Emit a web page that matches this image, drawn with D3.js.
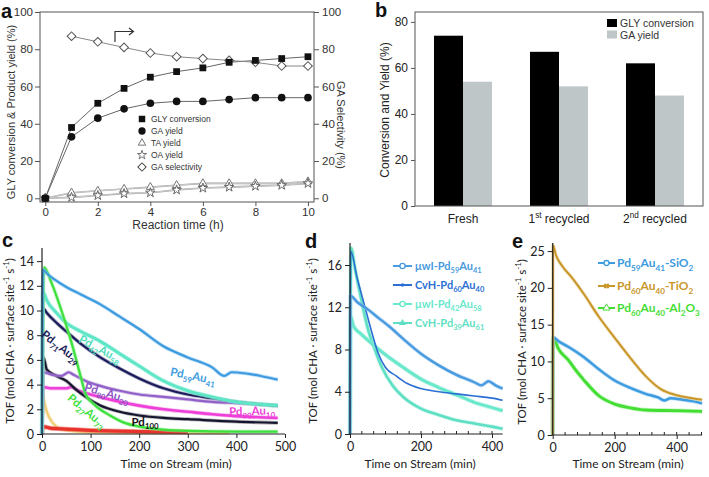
<!DOCTYPE html>
<html><head><meta charset="utf-8">
<script src="https://cdn.jsdelivr.net/npm/d3@7"></script>
<style>body{margin:0;background:#fff}svg{display:block}</style>
</head><body>
<svg id="fig" width="709" height="477"></svg>
<script>
// ---------- Panel a data ----------
const aHours = [0,1,2,3,4,5,6,7,8,9,10];
const aGlyConversion = [0,38,51,59,65,68,70,73,74,75,76];
const aGaYield = [0,33,43,48,51,52,52,53,54,54,54];
const aTaYield = [0,3,4,5,6,7,8,8,8,8,9];
const aOaYield = [0,0.5,1.5,2.5,3,4.5,5.5,6,6.5,7,8];
const aSelHours = [1,2,3,4,5,6,7,8,9,10];
const aGaSelectivity = [87,84,81,78,76,75,74,73,71,71];
const aXTicks = [0,2,4,6,8,10];
const aYTicks = [0,20,40,60,80,100];
const aLegend = ["GLY conversion","GA yield","TA yield","OA yield","GA selectivity"];

// ---------- Panel b data ----------
const bCategories = ["Fresh","1^{st} recycled","2^{nd} recycled"];
const bSeries = ["GLY conversion","GA yield"];
const bGlyConversion = [74,67,62];
const bGaYield = [54,52,48];
const bYTicks = [0,20,40,60,80];

// ---------- Panel c data ([min, TOF]) ----------
const cPd59Au41 = [[0,0],[2,13.3],[10,13],[30,12.4],[50,11.9],[80,11.3],[120,10.5],[160,9.5],[200,8.5],[250,7.1],[300,6.2],[350,5.4],[375,4.7],[390,5.0],[420,4.9],[450,4.7],[485,4.4]];
const cPd42Au58 = [[0,0],[2,11.5],[10,10.8],[30,9.8],[50,9.0],[80,8.3],[120,7.5],[160,6.5],[200,5.5],[250,4.3],[300,3.5],[350,3.0],[400,2.6],[450,2.4],[485,2.3]];
const cPd71Au29 = [[0,0],[2,10.2],[10,9.8],[30,9.0],[50,8.3],[80,7.3],[120,6.2],[160,5.3],[200,4.5],[250,3.7],[300,3.2],[350,2.9],[400,2.6],[450,2.4],[485,2.3]];
const cPd27Au73 = [[0,0],[4,13.5],[20,12.2],[40,10.0],[60,7.5],[80,4.6],[90,3.2],[110,2.3],[140,1.5],[170,0.9],[200,0.6],[250,0.35],[300,0.25],[400,0.2],[485,0.2]];
const cPd80Au20 = [[0,0],[2,5.0],[20,4.8],[40,4.7],[55,5.0],[65,4.8],[90,4.3],[120,3.9],[160,3.5],[200,3.2],[250,3.0],[300,2.8],[350,2.6],[400,2.5],[485,2.3]];
const cPd90Au10 = [[0,0],[2,3.8],[20,3.7],[50,3.7],[60,3.8],[75,3.5],[100,3.2],[150,2.7],[200,2.3],[250,2.0],[300,1.8],[350,1.6],[400,1.45],[485,1.3]];
const cPd100 = [[0,0],[3,6.2],[10,5.2],[30,4.7],[50,4.3],[70,3.6],[90,3.0],[120,2.3],[160,1.8],[200,1.5],[250,1.3],[300,1.2],[400,1.0],[485,0.9]];
const cAu100 = [[0,0],[1,3.2],[5,2.5],[10,1.8],[20,1.0],[30,0.6],[50,0.3],[100,0.15],[385,0.1]];
const cSupport = [[0,0],[2,0.6],[20,0.45],[50,0.4],[100,0.3],[200,0.2],[300,0.15]];
const cXTicks = [0,100,200,300,400,500];
const cYTicks = [0,2,4,6,8,10,12,14];

// ---------- Panel d data ----------
const dMwiPd59Au41 = [[0,0],[1,13.1],[20,12.5],[50,11.8],[80,11.0],[110,10.2],[150,9.0],[200,7.6],[250,6.5],[300,5.6],[350,4.9],[370,4.6],[390,5.0],[410,4.6],[430,4.3]];
const dCvhPd60Au40 = [[0,0],[2,17.3],[20,14.8],[40,12.3],[60,9.8],[80,7.6],[100,6.3],[130,5.5],[160,4.8],[200,4.3],[250,4.0],[300,3.8],[350,3.6],[400,3.4],[430,3.2]];
const dMwiPd42Au58 = [[0,0],[1,11.2],[10,10.2],[30,9.5],[60,8.6],[100,7.5],[150,6.3],[200,5.2],[250,4.4],[300,3.7],[350,3.0],[400,2.5],[430,2.2]];
const dCvhPd39Au61 = [[0,0],[3,17.6],[15,15.5],[30,13.0],[50,10.0],[70,8.0],[90,6.3],[120,4.6],[150,3.5],[200,2.4],[250,1.8],[300,1.3],[350,1.0],[400,0.7],[430,0.5]];
const dLegend = ["μwI-Pd_{59}Au_{41}","CvH-Pd_{60}Au_{40}","μwI-Pd_{42}Au_{58}","CvH-Pd_{39}Au_{61}"];
const dXTicks = [0,200,400];
const dYTicks = [0,4,8,12,16];

// ---------- Panel e data ----------
const eSiO2 = [[0,0],[1,13.3],[20,12.7],[50,12.0],[100,10.6],[150,8.9],[200,7.4],[250,6.4],[300,5.6],[340,5.1],[360,4.7],[380,5.0],[420,4.8],[450,4.6],[482,4.3]];
const eTiO2 = [[0,0],[1,25.8],[10,24.5],[30,23.0],[60,21.5],[100,19.2],[150,16.0],[200,13.2],[250,10.5],[300,8.0],[350,6.2],[400,5.4],[450,5.0],[482,4.8]];
const eAl2O3 = [[0,0],[1,13.2],[20,11.6],[50,10.2],[80,8.5],[100,7.5],[150,5.3],[200,4.2],[250,3.7],[300,3.4],[400,3.3],[482,3.2]];
const eLegend = ["Pd_{59}Au_{41}-SiO_{2}","Pd_{60}Au_{40}-TiO_{2}","Pd_{60}Au_{40}-Al_{2}O_{3}"];
const eXTicks = [0,200,400];
const eYTicks = [0,5,10,15,20,25];

// ---------- helpers ----------
const FA = "'Liberation Sans', Arial, sans-serif";
const FC = "Lato, 'Open Sans', sans-serif";
const svg = d3.select("#fig");

function rich(t, s, fs) {
  const parts = s.split(/(_\{[^}]*\}|\^\{[^}]*\})/).filter(p => p.length);
  let cur = 0;
  parts.forEach(p => {
    let txt = p, off = 0, size = fs;
    if (p.startsWith("_{")) { txt = p.slice(2, -1); off = fs * 0.3; size = fs * 0.68; }
    else if (p.startsWith("^{")) { txt = p.slice(2, -1); off = -fs * 0.4; size = fs * 0.68; }
    t.append("tspan").attr("dy", off - cur).attr("font-size", size).text(txt);
    cur = off;
  });
  return t;
}
function styleAxis(g, font, size, color, lineColor) {
  g.select(".domain").remove();
  g.selectAll(".tick text").attr("font-family", font).attr("font-size", size).attr("fill", color);
  g.selectAll(".tick line").attr("stroke", lineColor);
}
function panelLetter(ch, x, y) {
  svg.append("text").attr("x", x).attr("y", y).attr("font-family", FA).attr("font-weight", "bold")
    .attr("font-size", 20).attr("fill", "#111").text(ch);
}

// =============== Panel a ===============
{
  const g = svg.append("g");
  const x = d3.scaleLinear([-0.2, 10.23], [40, 314]);
  const y = d3.scaleLinear([-2, 100], [202, 12]);
  g.append("rect").attr("x", 40).attr("y", 12).attr("width", 274).attr("height", 190)
    .attr("fill", "none").attr("stroke", "#555").attr("stroke-width", 1);
  styleAxis(g.append("g").attr("transform", "translate(40,0)")
    .call(d3.axisLeft(y).tickValues(aYTicks).tickSize(5).tickPadding(2)), FA, 11.5, "#333", "#555");
  styleAxis(g.append("g").attr("transform", "translate(314,0)")
    .call(d3.axisRight(y).tickValues(aYTicks).tickSize(5).tickPadding(3)), FA, 11.5, "#333", "#555");
  styleAxis(g.append("g").attr("transform", "translate(0,202)")
    .call(d3.axisBottom(x).tickValues(aXTicks).tickSize(4).tickPadding(2)), FA, 11.5, "#333", "#555");

  const line = d3.line().x(d => x(d[0])).y(d => y(d[1]));
  const z = (xs, ys) => xs.map((h, i) => [h, ys[i]]);
  const sGly = z(aHours, aGlyConversion), sGa = z(aHours, aGaYield), sTa = z(aHours, aTaYield),
        sOa = z(aHours, aOaYield), sSel = z(aSelHours, aGaSelectivity);
  [sTa, sOa].forEach(s => g.append("path").attr("d", line(s)).attr("fill", "none").attr("stroke", "#999").attr("stroke-width", 1.6));
  [sTa, sOa].forEach(s => g.append("path").attr("d", line(s)).attr("fill", "none").attr("stroke", "#fff").attr("stroke-width", 0.5));
  [sGly, sGa].forEach(s => g.append("path").attr("d", line(s)).attr("fill", "none").attr("stroke", "#666").attr("stroke-width", 1));
  g.append("path").attr("d", line(sSel)).attr("fill", "none").attr("stroke", "#888").attr("stroke-width", 1);

  const sym = (type, size) => d3.symbol().type(type).size(size)();
  g.selectAll(".ta").data(sTa).join("path").attr("transform", d => `translate(${x(d[0])},${y(d[1])})`)
    .attr("d", sym(d3.symbolTriangle, 28)).attr("fill", "#fff").attr("stroke", "#777");
  g.selectAll(".oa").data(sOa).join("path").attr("transform", d => `translate(${x(d[0])},${y(d[1])})`)
    .attr("d", sym(d3.symbolStar, 28)).attr("fill", "#fff").attr("stroke", "#666");
  g.selectAll(".sel").data(sSel).join("path").attr("transform", d => `translate(${x(d[0])},${y(d[1])}) rotate(45)`)
    .attr("d", sym(d3.symbolSquare, 38)).attr("fill", "#fff").attr("stroke", "#555");
  g.selectAll(".gly").data(sGly).join("path").attr("transform", d => `translate(${x(d[0])},${y(d[1])})`)
    .attr("d", sym(d3.symbolSquare, 46)).attr("fill", "#111");
  g.selectAll(".ga").data(sGa).join("path").attr("transform", d => `translate(${x(d[0])},${y(d[1])})`)
    .attr("d", sym(d3.symbolCircle, 46)).attr("fill", "#111");

  // arrow pointing to right axis
  g.append("path").attr("d", "M115,42V31.5H133").attr("fill", "none").attr("stroke", "#333").attr("stroke-width", 1.2);
  g.append("path").attr("d", "M129,28L133.5,31.5L129,35").attr("fill", "none").attr("stroke", "#333").attr("stroke-width", 1.2);

  // legend
  const ly = [119, 131, 143, 155, 167];
  const lsym = [
    {t: d3.symbolSquare, s: 42, f: "#111", st: "none", r: 0},
    {t: d3.symbolCircle, s: 42, f: "#111", st: "none", r: 0},
    {t: d3.symbolTriangle, s: 24, f: "#fff", st: "#777", r: 0},
    {t: d3.symbolStar, s: 26, f: "#fff", st: "#777", r: 0},
    {t: d3.symbolSquare, s: 34, f: "#fff", st: "#444", r: 45}];
  aLegend.forEach((name, i) => {
    g.append("path").attr("transform", `translate(142,${ly[i]}) rotate(${lsym[i].r})`)
      .attr("d", sym(lsym[i].t, lsym[i].s)).attr("fill", lsym[i].f).attr("stroke", lsym[i].st);
    g.append("text").attr("x", 151).attr("y", ly[i] + 3).attr("font-family", FA).attr("font-size", 8.5)
      .attr("fill", "#333").text(name);
  });

  g.append("text").attr("transform", "translate(15,112) rotate(-90)").attr("text-anchor", "middle")
    .attr("font-family", FA).attr("font-size", 11).attr("fill", "#333").text("GLY conversion & Product yield (%)");
  g.append("text").attr("transform", "translate(337,125) rotate(90)").attr("text-anchor", "middle")
    .attr("font-family", FA).attr("font-size", 11).attr("fill", "#333").text("GA Selectivity (%)");
  g.append("text").attr("x", 178).attr("y", 229).attr("text-anchor", "middle")
    .attr("font-family", FA).attr("font-size", 12).attr("fill", "#333").text("Reaction time (h)");
  panelLetter("a", 1, 18);
}

// =============== Panel b ===============
{
  const g = svg.append("g");
  const x = d3.scaleBand(bCategories, [415, 703]);
  const xi = d3.scaleBand(bSeries, [0, x.bandwidth()]).paddingOuter(0.655).paddingInner(0);
  const y = d3.scaleLinear([0, 84.3], [206, 12]);
  const colors = ["#000", "#bec6c8"];
  const vals = [bGlyConversion, bGaYield];
  bSeries.forEach((s, si) => {
    g.selectAll(".b" + si).data(bCategories).join("rect")
      .attr("x", c => x(c) + xi(s)).attr("width", xi.bandwidth())
      .attr("y", (c, i) => y(vals[si][i])).attr("height", (c, i) => y(0) - y(vals[si][i]))
      .attr("fill", colors[si]);
  });
  g.append("rect").attr("x", 415).attr("y", 12).attr("width", 288).attr("height", 194)
    .attr("fill", "none").attr("stroke", "#555").attr("stroke-width", 1);
  styleAxis(g.append("g").attr("transform", "translate(415,0)")
    .call(d3.axisLeft(y).tickValues(bYTicks).tickSize(4).tickPadding(3)), FA, 12, "#222", "#555");
  bCategories.forEach(c => {
    const t = g.append("text").attr("x", x(c) + x.bandwidth() / 2).attr("y", 223).attr("text-anchor", "middle")
      .attr("font-family", FA).attr("fill", "#222").attr("font-size", 12);
    rich(t, c, 12);
  });
  bSeries.forEach((s, i) => {
    g.append("rect").attr("x", 607).attr("y", 19 + i * 11.5).attr("width", 10).attr("height", 8).attr("fill", colors[i]);
    g.append("text").attr("x", 620).attr("y", 27 + i * 11.5).attr("font-family", FA).attr("font-size", 10.5)
      .attr("fill", "#333").text(s);
  });
  g.append("text").attr("transform", "translate(389,110) rotate(-90)").attr("text-anchor", "middle")
    .attr("font-family", FA).attr("font-size", 12).attr("fill", "#222").text("Conversion and Yield (%)");
  panelLetter("b", 375, 17);
}

// ---------- shared TOF panel helpers ----------
const tofLabel = "TOF (mol CHA · surface site^{-1} s^{-1})";
function tofAxes(g, x, y, xTicks, yTicks, minorStep, xMax, yTop, lx, ly, xlx) {
  const x0 = x.range()[0], y0 = y.range()[0];
  g.append("line").attr("x1", x0).attr("x2", x0).attr("y1", y0).attr("y2", yTop).attr("stroke", "#222").attr("stroke-width", 1.2);
  g.append("line").attr("x1", x0).attr("x2", x(xMax)).attr("y1", y0).attr("y2", y0).attr("stroke", "#222").attr("stroke-width", 1.2);
  styleAxis(g.append("g").attr("transform", `translate(${x0},0)`)
    .call(d3.axisLeft(y).tickValues(yTicks).tickSize(5).tickPadding(3)), FC, 12.5, "#222", "#222");
  styleAxis(g.append("g").attr("transform", `translate(0,${y0})`)
    .call(d3.axisBottom(x).tickValues(xTicks).tickSize(4).tickPadding(4)), FC, 12.5, "#222", "#222");
  if (minorStep) {
    const mt = d3.range(minorStep, xMax, minorStep);
    g.selectAll(".mt").data(mt).join("line").attr("x1", d => x(d)).attr("x2", d => x(d))
      .attr("y1", y0).attr("y2", y0 - 3).attr("stroke", "#222");
  }
  const t = g.append("text").attr("transform", `translate(${lx},${ly}) rotate(-90)`).attr("text-anchor", "middle")
    .attr("font-family", FC).attr("fill", "#222");
  rich(t, tofLabel, 11.5);
  g.append("text").attr("x", xlx).attr("y", 468).attr("text-anchor", "middle").attr("font-family", FC)
    .attr("font-size", 12).attr("fill", "#222").text("Time on Stream (min)");
}
function curve(g, x, y, data, color, w, halo) {
  const line = d3.line().x(d => x(d[0])).y(d => y(d[1])).curve(d3.curveMonotoneX);
  if (halo) g.append("path").attr("d", line(data)).attr("fill", "none").attr("stroke", halo)
    .attr("stroke-width", w + 1.6).attr("stroke-opacity", 0.55).attr("stroke-linejoin", "round");
  g.append("path").attr("d", line(data)).attr("fill", "none").attr("stroke", color)
    .attr("stroke-width", w).attr("stroke-linejoin", "round");
}
function label(g, cx, cy, rot, s, color, fs) {
  const t = g.append("text").attr("transform", `translate(${cx},${cy}) rotate(${rot})`).attr("y", 4)
    .attr("text-anchor", "middle").attr("font-family", FC).attr("font-weight", "bold").attr("fill", color);
  rich(t, s, fs);
}

// =============== Panel c ===============
{
  const g = svg.append("g");
  const x = d3.scaleLinear([0, 500], [42, 285]);
  const y = d3.scaleLinear([0, 14.9], [434, 250]);
  curve(g, x, y, cAu100, "#f0cf7a", 2.4, "#f7e2a8");
  curve(g, x, y, cSupport, "#e8332d", 3.2, "#f06a5a");
  curve(g, x, y, cPd90Au10, "#ee3fd8", 2.6, "#f58ae6");
  curve(g, x, y, cPd100, "#151530", 2.2, "#777");
  curve(g, x, y, cPd80Au20, "#9160c8", 2.2, "#b89ad8");
  curve(g, x, y, cPd71Au29, "#1c1c5a", 2.2, "#6a6a9a");
  curve(g, x, y, cPd42Au58, "#5fe6c6", 3, "#9ff0dc");
  curve(g, x, y, cPd27Au73, "#3ee03e", 2.2, "#8cef8c");
  curve(g, x, y, cPd59Au41, "#3d9be0", 2.2, "#8cc4ee");
  tofAxes(g, x, y, cXTicks, cYTicks, null, 500, 248, 14, 341, 176);
  label(g, 193, 376, 11, "Pd_{59}Au_{41}", "#3d9be0", 11.5);
  label(g, 100, 349, 28, "Pd_{42}Au_{58}", "#4fdcbc", 11.5);
  label(g, 61, 347, 38, "Pd_{71}Au_{29}", "#1c1c5a", 11.5);
  label(g, 107, 393, 16, "Pd_{80}Au_{20}", "#8a52c2", 11.5);
  label(g, 87, 411, 40, "Pd_{27}Au_{73}", "#3ee03e", 11.5);
  label(g, 145, 422, 0, "Pd_{100}", "#111", 11.5);
  label(g, 252, 411, -2, "Pd_{90}Au_{10}", "#ee3fd8", 11.5);
  panelLetter("c", 2, 247);
}

// =============== Panel d ===============
{
  const g = svg.append("g");
  const x = d3.scaleLinear([0, 400], [350, 492]);
  const y = d3.scaleLinear([0, 17.8], [434, 246]);
  const cols = ["#4a9be0", "#2b6fd4", "#6ae8cc", "#5fdfc4"];
  curve(g, x, y, dCvhPd39Au61, cols[3], 2.6, "#a6f0df");
  curve(g, x, y, dMwiPd42Au58, cols[2], 3, "#a6f0df");
  curve(g, x, y, dCvhPd60Au40, cols[1], 1.6, null);
  curve(g, x, y, dMwiPd59Au41, cols[0], 2.4, "#9ccbf0");
  tofAxes(g, x, y, dXTicks, dYTicks, 100 / 3, 430, 243, 317, 341, 420);
  const ly = [266, 285, 304, 323];
  dLegend.forEach((s, i) => {
    g.append("line").attr("x1", 393).attr("x2", 412).attr("y1", ly[i]).attr("y2", ly[i]).attr("stroke", cols[i]).attr("stroke-width", 2);
    if (i === 1) g.append("circle").attr("cx", 402.5).attr("cy", ly[i]).attr("r", 1.8).attr("fill", cols[i]);
    else if (i === 3) g.append("path").attr("transform", `translate(402.5,${ly[i]})`).attr("d", d3.symbol(d3.symbolTriangle, 22)()).attr("fill", cols[i]);
    else g.append("circle").attr("cx", 402.5).attr("cy", ly[i]).attr("r", 2.6).attr("fill", "#fff").attr("stroke", cols[i]).attr("stroke-width", 1.4);
    const t = g.append("text").attr("x", 415).attr("y", ly[i] + 4).attr("font-family", FC).attr("font-weight", "bold").attr("fill", cols[i]);
    rich(t, s, 11);
  });
  panelLetter("d", 305, 248);
}

// =============== Panel e ===============
{
  const g = svg.append("g");
  const x = d3.scaleLinear([0, 400], [552.7, 676.7]);
  const y = d3.scaleLinear([0, 26.1], [435, 243]);
  const cols = ["#3d9be0", "#c9962a", "#44dd33"];
  curve(g, x, y, eAl2O3, cols[2], 2.8, "#8ff08a");
  curve(g, x, y, eSiO2, cols[0], 2.4, "#92c8f0");
  curve(g, x, y, eTiO2, cols[1], 2, "#e8cf90");
  tofAxes(g, x, y, eXTicks, eYTicks, 40, 482, 243, 526, 342, 628);
  const ly = [263, 286, 308];
  eLegend.forEach((s, i) => {
    g.append("line").attr("x1", 598).attr("x2", 615).attr("y1", ly[i]).attr("y2", ly[i]).attr("stroke", cols[i]).attr("stroke-width", 2);
    if (i === 0) g.append("circle").attr("cx", 606.5).attr("cy", ly[i]).attr("r", 2.5).attr("fill", "#fff").attr("stroke", cols[i]).attr("stroke-width", 1.3);
    else if (i === 1) g.append("path").attr("transform", `translate(606.5,${ly[i]}) rotate(45)`).attr("d", d3.symbol(d3.symbolCross, 20)()).attr("fill", cols[i]);
    else g.append("path").attr("transform", `translate(606.5,${ly[i]})`).attr("d", d3.symbol(d3.symbolTriangle, 22)()).attr("fill", "#fff").attr("stroke", cols[i]);
    const t = g.append("text").attr("x", 617).attr("y", ly[i] + 4).attr("font-family", FC).attr("font-weight", "bold").attr("fill", cols[i]);
    rich(t, s, 12);
  });
  panelLetter("e", 512, 248);
}
</script>
</body></html>
